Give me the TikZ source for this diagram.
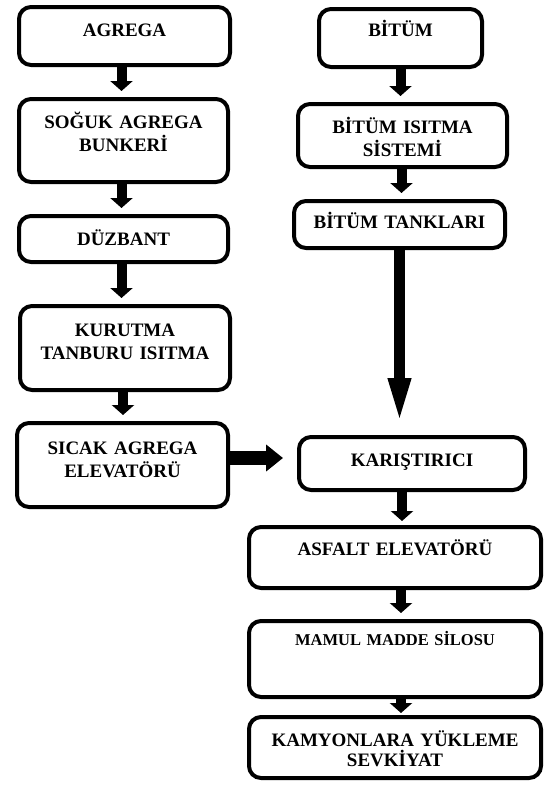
\documentclass[tikz,border=0pt]{standalone}
\usepackage{fontspec}
\setmainfont{Liberation Serif}
\usetikzlibrary{arrows.meta}

\begin{document}
\begin{tikzpicture}[x=1pt, y=-1pt,
  box/.style={draw, line width=4pt, rounded corners=12pt, inner sep=0pt, align=center, anchor=north west, font=\fontsize{19}{23}\selectfont\bfseries},
  flow/.style={line width=10pt, -{Triangle[width=22pt,length=10pt]}, shorten >=6pt}]
\useasboundingbox (0,0) rectangle (544,785);
% left column
\node[box, text width=211pt, text height=29pt, text depth=29pt] (agrega) at (17,5) {AGREGA};
\node[box, text width=209pt, text height=29pt, text depth=54pt] (bunker) at (17,97) {SOĞUK AGREGA\\BUNKERİ};
\node[box, text width=209pt, text height=29pt, text depth=17pt] (duzbant) at (17,214) {DÜZBANT};
\node[box, text width=210pt, text height=30pt, text depth=54pt] (kurutma) at (18,304) {KURUTMA\\TANBURU ISITMA};
\node[box, text width=211pt, text height=31pt, text depth=53pt] (sicak) at (15,421) {SICAK AGREGA\\ELEVATÖRÜ};
% right column
\node[box, text width=163pt, text height=27pt, text depth=31pt] (bitum) at (317,7) {BİTÜM};
\node[box, text width=209pt, text height=29pt, text depth=34pt] (isitma) at (296,102) {BİTÜM ISITMA\\SİSTEMİ};
\node[box, text width=211pt, text height=27pt, text depth=20pt] (tank) at (292,199) {BİTÜM TANKLARI};
\node[box, text width=226pt, text height=29pt, text depth=24pt] (karis) at (297,435) {KARIŞTIRICI};
\node[box, text width=292pt, text height=28pt, text depth=33pt] (asfalt) at (247,525) {ASFALT ELEVATÖRÜ};
\node[box, text width=292pt, text height=24pt, text depth=52pt, font=\fontsize{16.5}{20}\selectfont\bfseries] (silo) at (247,619) {MAMUL MADDE SİLOSU};
\node[box, text width=292pt, text height=29pt, text depth=32pt, font=\fontsize{19}{20}\selectfont\bfseries] (kamyon) at (247,715) {KAMYONLARA YÜKLEME\\SEVKİYAT};
% arrows
\draw[flow] ([xshift=-3pt]agrega.south) -- ([xshift=-3pt]agrega.south |- bunker.north);
\draw[flow] ([xshift=-2pt]bunker.south) -- ([xshift=-2pt]bunker.south |- duzbant.north);
\draw[flow] ([xshift=-2pt]duzbant.south) -- ([xshift=-2pt]duzbant.south |- kurutma.north);
\draw[flow] ([xshift=-2pt]kurutma.south) -- ([xshift=-2pt]kurutma.south |- sicak.north);
\draw[flow] (bitum.south) -- (bitum.south |- isitma.north);
\draw[flow] ([xshift=-1pt]isitma.south) -- ([xshift=-1pt]isitma.south |- tank.north);
\draw[line width=11pt, -{Triangle[width=20pt,length=48pt]}, shorten >=9pt] (tank.south) -- (tank.south |- karis.north);
\draw[line width=14pt, -{Triangle[width=26pt,length=17pt]}, shorten >=14pt] ([yshift=7pt]sicak.east) -- ([yshift=7pt]sicak.east -| karis.west);
\draw[flow, shorten >=4pt] ([xshift=-10pt]karis.south) -- ([xshift=-10pt]karis.south |- asfalt.north);
\draw[flow] ([xshift=6pt]asfalt.south) -- ([xshift=6pt]asfalt.south |- silo.north);
\draw[flow, shorten >=2pt] ([xshift=6pt]silo.south) -- ([xshift=6pt]silo.south |- kamyon.north);
\end{tikzpicture}
\end{document}
